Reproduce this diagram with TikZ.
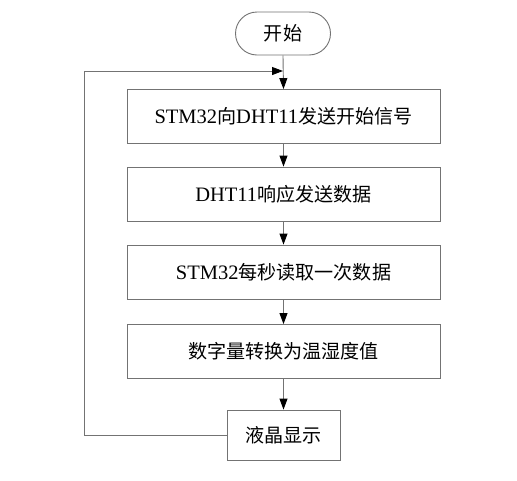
\documentclass[tikz,border=0pt]{standalone}
\usepackage{fontspec}
\setmainfont{Liberation Serif}
\newfontfamily\cjk{Noto Sans CJK SC}[Scale=0.93]
\usetikzlibrary{arrows.meta,shapes.misc}
\newcommand{\zh}[1]{{\cjk #1}}
\begin{document}
\begin{tikzpicture}[x=1pt,y=-1pt,
  line/.style={draw=black!55, line width=0.9pt},
  arr/.style={line, -{Triangle[length=11pt,width=8pt,fill=black,color=black]}},
  stepbox/.style={line, rectangle, minimum width=313pt, minimum height=54pt, inner sep=0pt, font=\fontsize{20.5}{24}\selectfont},
  term/.style={line, rounded rectangle, minimum width=95pt, minimum height=43pt, inner sep=0pt, font=\fontsize{20.5}{24}\selectfont}
]
\useasboundingbox (0,0) rectangle (517,480);
\fill[white] (0,0) rectangle (517,480);
\node[term] (start) at (283,33.5) {\zh{开始}};
\node[stepbox] (b1) at (283.5,116.5) {STM32\zh{向}DHT11\zh{发送开始信号}};
\node[stepbox] (b2) at (283.5,194) {DHT11\zh{响应发送数据}};
\node[stepbox] (b3) at (283.5,272) {STM32\zh{每秒读取一次数据}};
\node[stepbox] (b4) at (283.5,351.5) {\zh{数字量转换为温湿度值}};
\node[stepbox, minimum width=113pt, minimum height=50pt] (b5) at (283.5,435) {\zh{液晶显示}};
\coordinate (j) at (283,71);
\coordinate (lb) at (84,435);
\coordinate (lt) at (84,71);
\draw[arr] (start.south) -- (b1.north);
\draw[arr] (b1.south) -- (b2.north);
\draw[arr] (b2.south) -- (b3.north);
\draw[arr] (b3.south) -- (b4.north);
\draw[arr] (b4.south) -- (b5.north);
\draw[arr] (b5.west) -- (lb) -- (lt) -- (j);
\end{tikzpicture}
\end{document}
